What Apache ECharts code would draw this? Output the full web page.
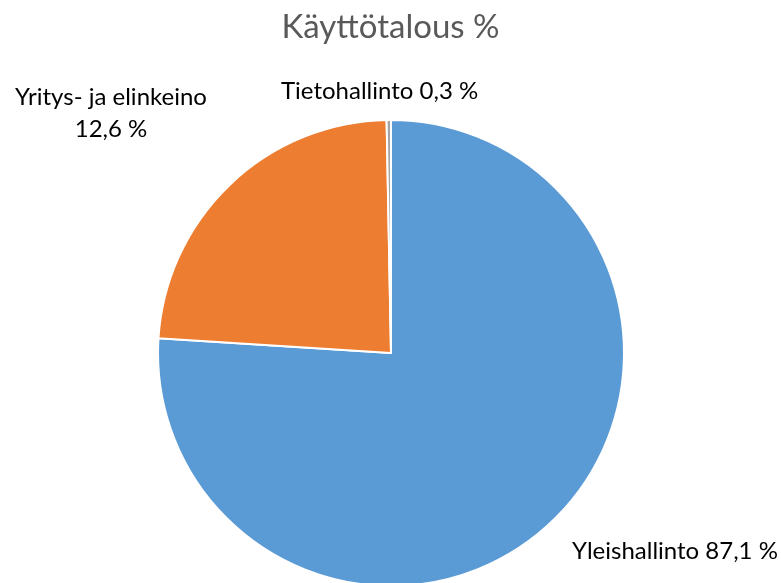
<!DOCTYPE html>
<html>
<head>
<meta charset="utf-8">
<script src="https://cdn.jsdelivr.net/npm/echarts@6/dist/echarts.min.js"></script>
<style>
  html, body { margin: 0; padding: 0; background: #fff; }
  #chart { width: 781px; height: 583px; }
</style>
</head>
<body>
<div id="chart"></div>
<script>
// slice sizes as drawn in the picture, label texts as printed on it
var categories = ['Yleishallinto', 'Yritys- ja elinkeino', 'Tietohallinto']
var values = [76.0, 23.7, 0.3]
var labelTexts = ['Yleishallinto 87,1 %', 'Yritys- ja elinkeino\n12,6 %', 'Tietohallinto 0,3 %']
var colors = ['#5B9BD5', '#ED7D31', '#A5A5A5']

// where the labels sit (x, y, align)
var labelSpots = [
  { x: 572, y: 551, align: 'left' },
  { x: 111, y: 113, align: 'center' },
  { x: 281, y: 91, align: 'left' }
]

var myChart = echarts.init(document.getElementById('chart'))
var font = 'Lato, "Noto Sans", sans-serif'

myChart.setOption({
  animation: false,
  backgroundColor: '#fff',
  title: {
    text: 'Käyttötalous %',
    left: 'center',
    top: 6,
    textStyle: { fontFamily: font, fontSize: 33, fontWeight: 'normal', color: '#595959' }
  },
  series: [
    {
      type: 'pie',
      center: [391, 353],
      radius: [0, 233],
      startAngle: 90,
      clockwise: true,
      avoidLabelOverlap: false,
      itemStyle: { borderColor: '#fff', borderWidth: 2 },
      label: {
        show: true,
        position: 'outside',
        fontFamily: font,
        fontSize: 24,
        lineHeight: 32,
        color: '#000',
        formatter: function (p) { return labelTexts[p.dataIndex] }
      },
      labelLine: { show: false },
      labelLayout: function (p) {
        var s = labelSpots[p.dataIndex]
        return { x: s.x, y: s.y, align: s.align, verticalAlign: 'middle' }
      },
      data: categories.map(function (c, i) {
        return { name: c, value: values[i], itemStyle: { color: colors[i] } }
      })
    }
  ]
})
</script>
</body>
</html>
